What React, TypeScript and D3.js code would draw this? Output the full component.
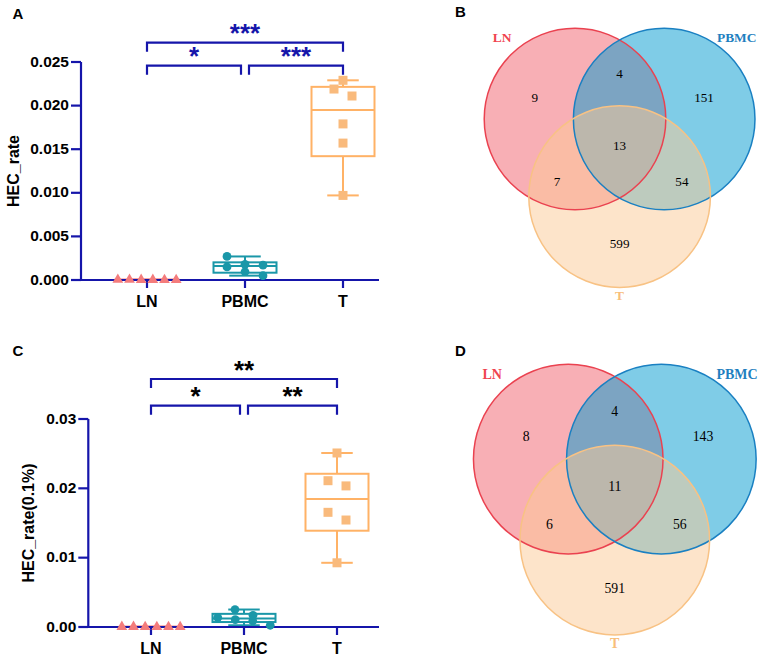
import React from 'react';
import * as d3 from 'd3';

const groups = ['LN', 'PBMC', 'T'];

// panel A: HEC_rate
const lnRateA = [0.00002, 0.00004, 0.00001, 0.00003, 0.00001, 0.00002];
const pbmcRateA = [0.0027, 0.0018, 0.0017, 0.0015, 0.00095, 0.0005];
const tRateA = [0.0229, 0.0219, 0.0211, 0.0179, 0.0157, 0.0097];
const ticksA = [0, 0.005, 0.01, 0.015, 0.02, 0.025];

// panel C: HEC_rate(0.1%)
const lnRateC = [0.00002, 0.00003, 0.00001, 0.00002, 0.00001, 0.00003];
const pbmcRateC = [0.00252, 0.00169, 0.00136, 0.00107, 0.00087, 0.00025];
const tRateC = [0.0251, 0.0211, 0.02035, 0.01654, 0.01543, 0.00926];
const ticksC = [0, 0.01, 0.02, 0.03];

// significance: [from, to, level, label]
const sigA: [string, string, number, string][] = [
  ['LN', 'PBMC', 0, '*'],
  ['PBMC', 'T', 0, '***'],
  ['LN', 'T', 1, '***'],
];
const sigC: [string, string, number, string][] = [
  ['LN', 'PBMC', 0, '*'],
  ['PBMC', 'T', 0, '**'],
  ['LN', 'T', 1, '**'],
];

// venn
const vennRegions = ['LN', 'LN&PBMC', 'PBMC', 'LN&PBMC&T', 'LN&T', 'PBMC&T', 'T'];
const countsB = [9, 4, 151, 13, 7, 54, 599];
const countsD = [8, 4, 143, 11, 6, 56, 591];

const AXIS = '#1515AA';
const SANS = '"Liberation Sans", Arial, sans-serif';
const SERIF = '"Liberation Serif", "Times New Roman", serif';

const style: Record<string, { stroke: string; fill: string; shape: d3.SymbolType; size: number }> = {
  LN: { stroke: '#F47C7C', fill: '#F47C7C', shape: d3.symbolTriangle, size: 50 },
  PBMC: { stroke: '#1A97A8', fill: '#1A97A8', shape: d3.symbolCircle, size: 60 },
  T: { stroke: '#FFB266', fill: '#F9BA7C', shape: d3.symbolSquare, size: 81 },
};

// GraphPad-style quartiles (n+1 method)
function quant(s: number[], p: number) {
  const h = p * (s.length + 1) - 1;
  const lo = Math.max(0, Math.min(s.length - 1, Math.floor(h)));
  const hi = Math.min(s.length - 1, lo + 1);
  const f = Math.max(0, h - lo);
  return s[lo] + f * (s[hi] - s[lo]);
}

// rows of points with close values get spread out side by side
function swarm(values: number[], y: d3.ScaleLinear<number, number>, rowH = 9, maxW = 70) {
  const pts = values.map((v) => ({ v, py: y(v), dx: 0 })).sort((a, b) => b.py - a.py);
  let i = 0;
  while (i < pts.length) {
    let j = i + 1;
    while (j < pts.length && pts[i].py - pts[j].py < rowH) j++;
    const row = pts.slice(i, j).sort((a, b) => b.v - a.v);
    const s = Math.min(18, maxW / row.length);
    row.forEach((p, k) => (p.dx = (k - (row.length - 1) / 2) * s));
    i = j;
  }
  return pts;
}

interface BoxPanelProps {
  letter: string;
  title: string;
  top: number;
  bottom: number;
  axisX: number;
  xRange: [number, number];
  ticks: number[];
  fmt: string;
  series: number[][];
  sig: [string, string, number, string][];
  sigY: number[];
  starColor: string;
  titleX: number;
  letterY: number;
}

const BoxPanel: React.FC<BoxPanelProps> = ({
  letter, title, top, bottom, axisX, xRange, ticks, fmt, series, sig, sigY, starColor, titleX, letterY,
}) => {
  const y = d3.scaleLinear().domain([0, ticks[ticks.length - 1]]).range([bottom, top]);
  const x = d3.scalePoint().domain(groups).range(xRange);
  const f = d3.format(fmt);
  const boxW = 63;
  const axisEnd = 379;

  const boxes = groups.map((g, gi) => {
    const s = [...series[gi]].sort(d3.ascending);
    const st = style[g];
    const cx = x(g)!;
    const q1 = quant(s, 0.25), med = quant(s, 0.5), q3 = quant(s, 0.75);
    const lo = s[0], hi = s[s.length - 1];
    return (
      <g key={g} stroke={st.stroke} strokeWidth={2} fill="none">
        <line x1={cx} x2={cx} y1={y(lo)} y2={y(q1)} />
        <line x1={cx} x2={cx} y1={y(q3)} y2={y(hi)} />
        <line x1={cx - boxW / 4} x2={cx + boxW / 4} y1={y(lo)} y2={y(lo)} />
        <line x1={cx - boxW / 4} x2={cx + boxW / 4} y1={y(hi)} y2={y(hi)} />
        <rect x={cx - boxW / 2} width={boxW} y={y(q3)} height={y(q1) - y(q3)} />
        <line x1={cx - boxW / 2} x2={cx + boxW / 2} y1={y(med)} y2={y(med)} />
      </g>
    );
  });

  const points = groups.map((g, gi) => {
    const st = style[g];
    const sym = d3.symbol().type(st.shape).size(st.size)()!;
    return (
      <g key={g} fill={st.fill}>
        {swarm(series[gi], y).map((p, k) => (
          <path key={k} d={sym} transform={`translate(${x(g)! + p.dx},${p.py})`} />
        ))}
      </g>
    );
  });

  return (
    <g>
      <text x={12.5} y={letterY} fontFamily={SANS} fontWeight="bold" fontSize={15}>{letter}</text>
      {boxes}
      {/* y axis */}
      <line x1={axisX} x2={axisX} y1={y(ticks[ticks.length - 1])} y2={bottom} stroke={AXIS} strokeWidth={2.2} />
      {ticks.map((t) => (
        <g key={t}>
          <line x1={axisX - 10} x2={axisX} y1={y(t)} y2={y(t)} stroke={AXIS} strokeWidth={2.2} />
          <text x={axisX - 12} y={y(t) - 1} textAnchor="end" dominantBaseline="central"
            fontFamily={SANS} fontWeight="bold" fontSize={15.5}>{f(t)}</text>
        </g>
      ))}
      {/* x axis */}
      <line x1={axisX - 1.1} x2={axisEnd} y1={bottom} y2={bottom} stroke={AXIS} strokeWidth={2.2} />
      {groups.map((g) => (
        <g key={g}>
          <line x1={x(g)} x2={x(g)} y1={bottom} y2={bottom + 8} stroke={AXIS} strokeWidth={2.2} />
          <text x={x(g)} y={bottom + 26.5} textAnchor="middle" fontFamily={SANS} fontWeight="bold" fontSize={16}>{g}</text>
        </g>
      ))}
      <text transform={`translate(${titleX},${(top + bottom) / 2}) rotate(-90)`} textAnchor="middle"
        fontFamily={SANS} fontWeight="bold" fontSize={16}>{title}</text>
      {points}
      {/* significance brackets */}
      {sig.map(([a, b, lvl, lab]) => {
        const inner = lvl === 0;
        const xa = x(a)! + (inner && a === 'PBMC' ? 4 : 0);
        const xb = x(b)! - (inner && b === 'PBMC' ? 4 : 0);
        const yy = sigY[lvl];
        return (
          <g key={a + b}>
            <path d={`M${xa},${yy + 9}V${yy}H${xb}V${yy + 9}`} fill="none" stroke={AXIS} strokeWidth={2.2} />
            <text x={(xa + xb) / 2} y={yy - 0.5} textAnchor="middle" fontFamily={SANS} fontWeight="bold"
              fontSize={26} fill={starColor}>{lab}</text>
          </g>
        );
      })}
    </g>
  );
};

// venn layout in units of circle radius, origin between LN and PBMC centres
const circleCenters: Record<string, [number, number]> = { LN: [-0.491, 0], PBMC: [0.491, 0], T: [0, 0.855] };
const regionPos: [number, number][] = [
  [-0.934, -0.238], [0, -0.505], [0.93, -0.238], [0, 0.293], [-0.69, 0.692], [0.686, 0.69], [0, 1.37],
];
const setLabelPos: Record<string, [number, number]> = { LN: [-1.294, -0.9], PBMC: [1.29, -0.9], T: [0, 1.94] };
const vennFill: Record<string, string> = { LN: '#F15F6B', PBMC: '#0099CF', T: '#FBC995' };
const vennStroke: Record<string, string> = { LN: '#EA4250', PBMC: '#1A80C2', T: '#F8C284' };
const vennText: Record<string, string> = { LN: '#F0434F', PBMC: '#1F7FC0', T: '#F8BE7A' };

const VennPanel: React.FC<{ letter: string; ox: number; oy: number; r: number; counts: number[]; letterY: number }> = ({
  letter, ox, oy, r, counts, letterY,
}) => {
  const sx = d3.scaleLinear().domain([0, 1]).range([ox, ox + r]);
  const sy = d3.scaleLinear().domain([0, 1]).range([oy, oy + r]);
  return (
    <g>
      <text x={455} y={letterY} fontFamily={SANS} fontWeight="bold" fontSize={15}>{letter}</text>
      {groups.map((g) => (
        <circle key={g} cx={sx(circleCenters[g][0])} cy={sy(circleCenters[g][1])} r={r}
          fill={vennFill[g]} fillOpacity={0.5} />
      ))}
      {groups.map((g) => (
        <circle key={g} cx={sx(circleCenters[g][0])} cy={sy(circleCenters[g][1])} r={r}
          fill="none" stroke={vennStroke[g]} strokeWidth={1.5} />
      ))}
      {vennRegions.map((reg, i) => (
        <text key={reg} x={sx(regionPos[i][0])} y={sy(regionPos[i][1])} textAnchor="middle" dominantBaseline="central"
          fontFamily={SERIF} fontSize={r * 0.145}>{counts[i]}</text>
      ))}
      {groups.map((g) => (
        <text key={g} x={sx(setLabelPos[g][0])} y={sy(setLabelPos[g][1])} textAnchor="middle" dominantBaseline="central"
          fontFamily={SERIF} fontWeight="bold" fontSize={r * 0.148} fill={vennText[g]}>{g}</text>
      ))}
    </g>
  );
};

export default function App() {
  return (
    <div style={{ position: 'absolute', left: 0, top: 0 }}>
      <svg width={765} height={659} style={{ display: 'block', background: '#fff' }}>
        <BoxPanel letter="A" title="HEC_rate" top={62} bottom={280} axisX={81} xRange={[147, 343]}
          ticks={ticksA} fmt=".3f" series={[lnRateA, pbmcRateA, tRateA]} sig={sigA} sigY={[65.7, 42.7]}
          starColor={AXIS} titleX={18.5} letterY={18.5} />
        <BoxPanel letter="C" title="HEC_rate(0.1%)" top={419} bottom={627} axisX={88.3} xRange={[151, 337]}
          ticks={ticksC} fmt=".2f" series={[lnRateC, pbmcRateC, tRateC]} sig={sigC} sigY={[405.7, 379]}
          starColor="#000" titleX={34} letterY={355.5} />
        <VennPanel letter="B" ox={619.6} oy={119} r={90.8} counts={countsB} letterY={16.5} />
        <VennPanel letter="D" ox={614.8} oy={459.1} r={94.8} counts={countsD} letterY={355.5} />
      </svg>
    </div>
  );
}
